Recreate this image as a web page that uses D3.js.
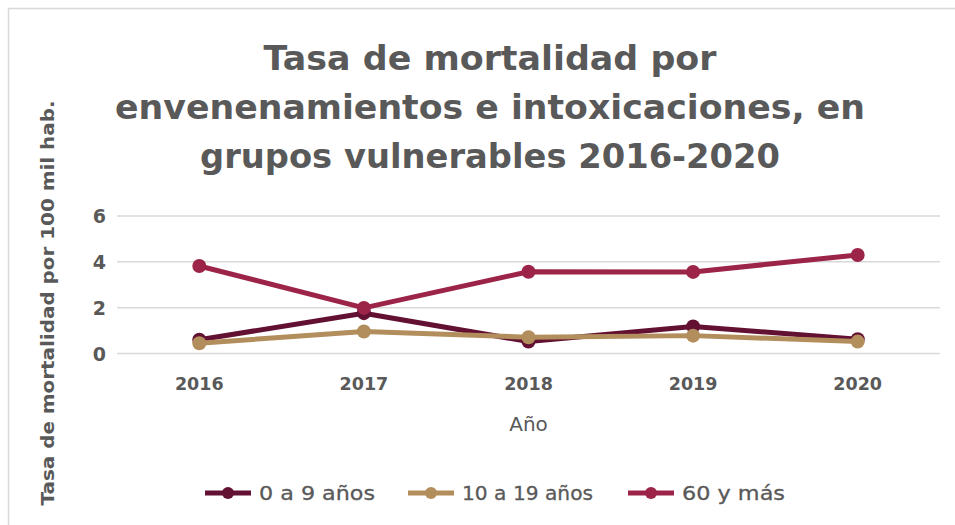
<!DOCTYPE html>
<html lang="es">
<head>
    <meta charset="UTF-8">
    <title>Tasa de mortalidad por envenenamientos</title>
    <script src="https://d3js.org/d3.v7.min.js"></script>
    <style>
        body {
            margin: 0;
            background-color: #fff;
        }
        svg text {
            font-family: "DejaVu Sans", sans-serif;
            fill: #595959;
        }
    </style>
</head>
<body>
    <svg id="chart" width="955" height="525"></svg>
    <script>
        // Data
        const years = ["2016", "2017", "2018", "2019", "2020"];
        const series = ["0 a 9 años", "10 a 19 años", "60 y más"];
        const ninos = [0.60, 1.76, 0.52, 1.18, 0.62];
        const jovenes = [0.45, 0.96, 0.71, 0.78, 0.52];
        const mayores = [3.82, 1.99, 3.57, 3.56, 4.30];
        const colors = ["#621132", "#b38e5d", "#9d2449"];
        const yTicks = [0, 2, 4, 6];
        const titleLines = [
            "Tasa de mortalidad por",
            "envenenamientos e intoxicaciones, en",
            "grupos vulnerables 2016-2020"
        ];

        const svg = d3.select("#chart");

        // Outer border (only top and left visible)
        svg.append("rect")
            .attr("x", 8.5).attr("y", 8.5)
            .attr("width", 980).attr("height", 560)
            .attr("fill", "none")
            .attr("stroke", "#d9d9d9")
            .attr("stroke-width", 1.5);

        // Title
        const titleWidths = [453, 750, 580];
        svg.selectAll(".title")
            .data(titleLines)
            .enter()
            .append("text")
            .attr("class", "title")
            .attr("x", 490)
            .attr("y", (d, i) => 70 + i * 49)
            .attr("text-anchor", "middle")
            .attr("font-size", 33)
            .attr("font-weight", "bold")
            .attr("textLength", (d, i) => titleWidths[i])
            .attr("lengthAdjust", "spacingAndGlyphs")
            .text(d => d);

        // Scales
        const x = d3.scaleBand().domain(years).range([117, 940]);
        const y = d3.scaleLinear().domain([0, 6]).range([353.5, 216]);

        // Gridlines
        svg.append("g")
            .selectAll("line")
            .data(yTicks)
            .enter()
            .append("line")
            .attr("x1", 117).attr("x2", 940)
            .attr("y1", d => y(d)).attr("y2", d => y(d))
            .attr("stroke", "#d9d9d9")
            .attr("stroke-width", 1.5);

        // Y axis
        const yAxis = svg.append("g")
            .attr("transform", "translate(106,0)")
            .call(d3.axisLeft(y).tickValues(yTicks).tickFormat(d3.format("d")).tickSize(0).tickPadding(0));
        yAxis.select(".domain").remove();
        yAxis.selectAll("text")
            .attr("font-size", 19)
            .attr("font-weight", "bold")
            .attr("dy", "0.35em");

        // X axis
        const xAxis = svg.append("g")
            .attr("transform", "translate(0,353.5)")
            .call(d3.axisBottom(x).tickSize(0).tickPadding(24));
        xAxis.select(".domain").remove();
        xAxis.selectAll("text")
            .attr("font-size", 17.5)
            .attr("font-weight", "bold");

        // Axis titles
        svg.append("text")
            .attr("x", x("2018") + x.bandwidth() / 2)
            .attr("y", 431)
            .attr("text-anchor", "middle")
            .attr("font-size", 20)
            .text("Año");

        svg.append("text")
            .attr("transform", "translate(54,303) rotate(-90)")
            .attr("text-anchor", "middle")
            .attr("font-size", 18)
            .attr("font-weight", "bold")
            .attr("textLength", 405)
            .attr("lengthAdjust", "spacingAndGlyphs")
            .text("Tasa de mortalidad por 100 mil hab.");

        // Lines and markers
        const allValues = [ninos, jovenes, mayores];
        const line = d3.line()
            .x((d, i) => x(years[i]) + x.bandwidth() / 2)
            .y(d => y(d));

        allValues.forEach((vals, s) => {
            const g = svg.append("g");
            g.append("path")
                .datum(vals)
                .attr("d", line)
                .attr("fill", "none")
                .attr("stroke", colors[s])
                .attr("stroke-width", 5)
                .attr("stroke-linejoin", "round");
            g.selectAll("circle")
                .data(vals)
                .enter()
                .append("circle")
                .attr("cx", (d, i) => x(years[i]) + x.bandwidth() / 2)
                .attr("cy", d => y(d))
                .attr("r", 7)
                .attr("fill", colors[s]);
        });

        // Legend
        const legendX = [205, 408, 628];
        const legendTextW = [116, 131, 103];
        const legend = svg.append("g")
            .selectAll("g")
            .data(series)
            .enter()
            .append("g")
            .attr("transform", (d, i) => `translate(${legendX[i]},493)`);
        legend.append("line")
            .attr("x1", 0).attr("x2", 46)
            .attr("stroke", (d, i) => colors[i])
            .attr("stroke-width", 5);
        legend.append("circle")
            .attr("cx", 23)
            .attr("r", 6)
            .attr("fill", (d, i) => colors[i]);
        legend.append("text")
            .attr("x", 54)
            .attr("dy", "0.35em")
            .attr("font-size", 20)
            .attr("stroke", "#595959")
            .attr("stroke-width", 0.3)
            .attr("textLength", (d, i) => legendTextW[i])
            .attr("lengthAdjust", "spacingAndGlyphs")
            .text(d => d);
    </script>
</body>
</html>
